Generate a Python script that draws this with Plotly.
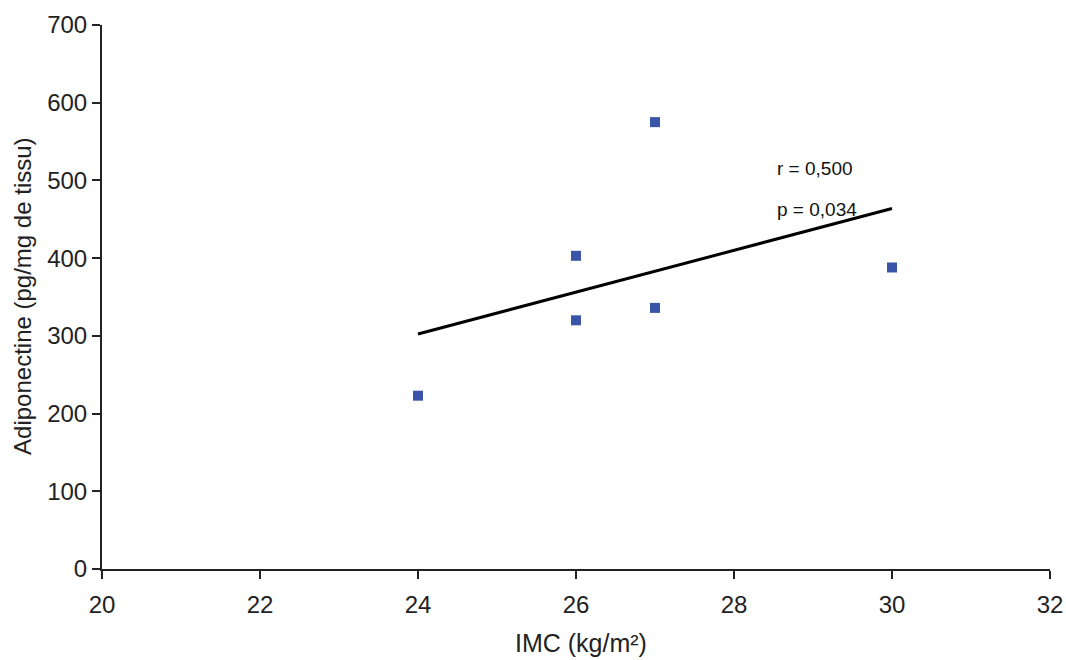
import numpy as np
import plotly.graph_objects as go

# Data
imc = [24, 26, 26, 27, 27, 30]
adiponectine = [223, 403, 320, 575, 336, 388]

x_ticks = [20, 22, 24, 26, 28, 30, 32]
y_ticks = [0, 100, 200, 300, 400, 500, 600, 700]

x_title = "IMC (kg/m²)"
y_title = "Adiponectine (pg/mg de tissu)"

stats_text = ["r = 0,500", "p = 0,034"]
stats_pos_x = [28.52, 28.52]
stats_pos_y = [515, 462]

# linear trend line (least squares), drawn across the data range
slope, intercept = np.polyfit(imc, adiponectine, 1)
trend_x = [min(imc), max(imc)]
trend_y = [slope * v + intercept for v in trend_x]

FONT = "Liberation Sans, Arial, sans-serif"
AX = "#222222"

fig = go.Figure()
fig.add_trace(go.Scatter(
    x=trend_x, y=trend_y, mode="lines",
    line=dict(color="black", width=3), showlegend=False, hoverinfo="skip"))
fig.add_trace(go.Scatter(
    x=imc, y=adiponectine, mode="markers",
    marker=dict(symbol="square", size=10, color="#3A55A8",
                line=dict(width=0)),
    showlegend=False))

for t, xx, yy in zip(stats_text, stats_pos_x, stats_pos_y):
    fig.add_annotation(x=xx, y=yy, xref="x", yref="y", text=t,
                       showarrow=False, xanchor="left", yanchor="middle",
                       font=dict(family=FONT, size=19, color="#111111"))

# axis titles
fig.add_annotation(x=0.5053, y=-0.136, xref="paper", yref="paper", text=x_title,
                   showarrow=False, xanchor="center", yanchor="middle",
                   font=dict(family=FONT, size=25, color=AX))
fig.add_annotation(x=-0.0833, y=0.502, xref="paper", yref="paper", text=y_title,
                   showarrow=False, xanchor="center", yanchor="middle", textangle=-90,
                   font=dict(family=FONT, size=24, color=AX))

fig.update_layout(
    width=1066, height=660,
    margin=dict(l=102, r=16, t=25, b=91),
    paper_bgcolor="white", plot_bgcolor="white",
    font=dict(family=FONT, color=AX),
)
fig.update_xaxes(
    range=[20, 32], tickvals=x_ticks, ticktext=[str(v) for v in x_ticks],
    showgrid=False, zeroline=False, showline=True, linecolor=AX, linewidth=2,
    ticks="outside", ticklen=8, tickwidth=2, tickcolor=AX,
    ticklabelstandoff=5,
    tickfont=dict(size=24, family=FONT, color=AX),
    automargin=False,
)
fig.update_yaxes(
    range=[0, 700], tickvals=y_ticks, ticktext=[str(v) for v in y_ticks],
    showgrid=False, zeroline=False, showline=True, linecolor=AX, linewidth=2,
    ticks="outside", ticklen=8, tickwidth=2, tickcolor=AX,
    tickfont=dict(size=24, family=FONT, color=AX),
    automargin=False,
)

fig.write_html("out.html", config={"displayModeBar": False},
               post_script="document.body.style.margin='0';")
